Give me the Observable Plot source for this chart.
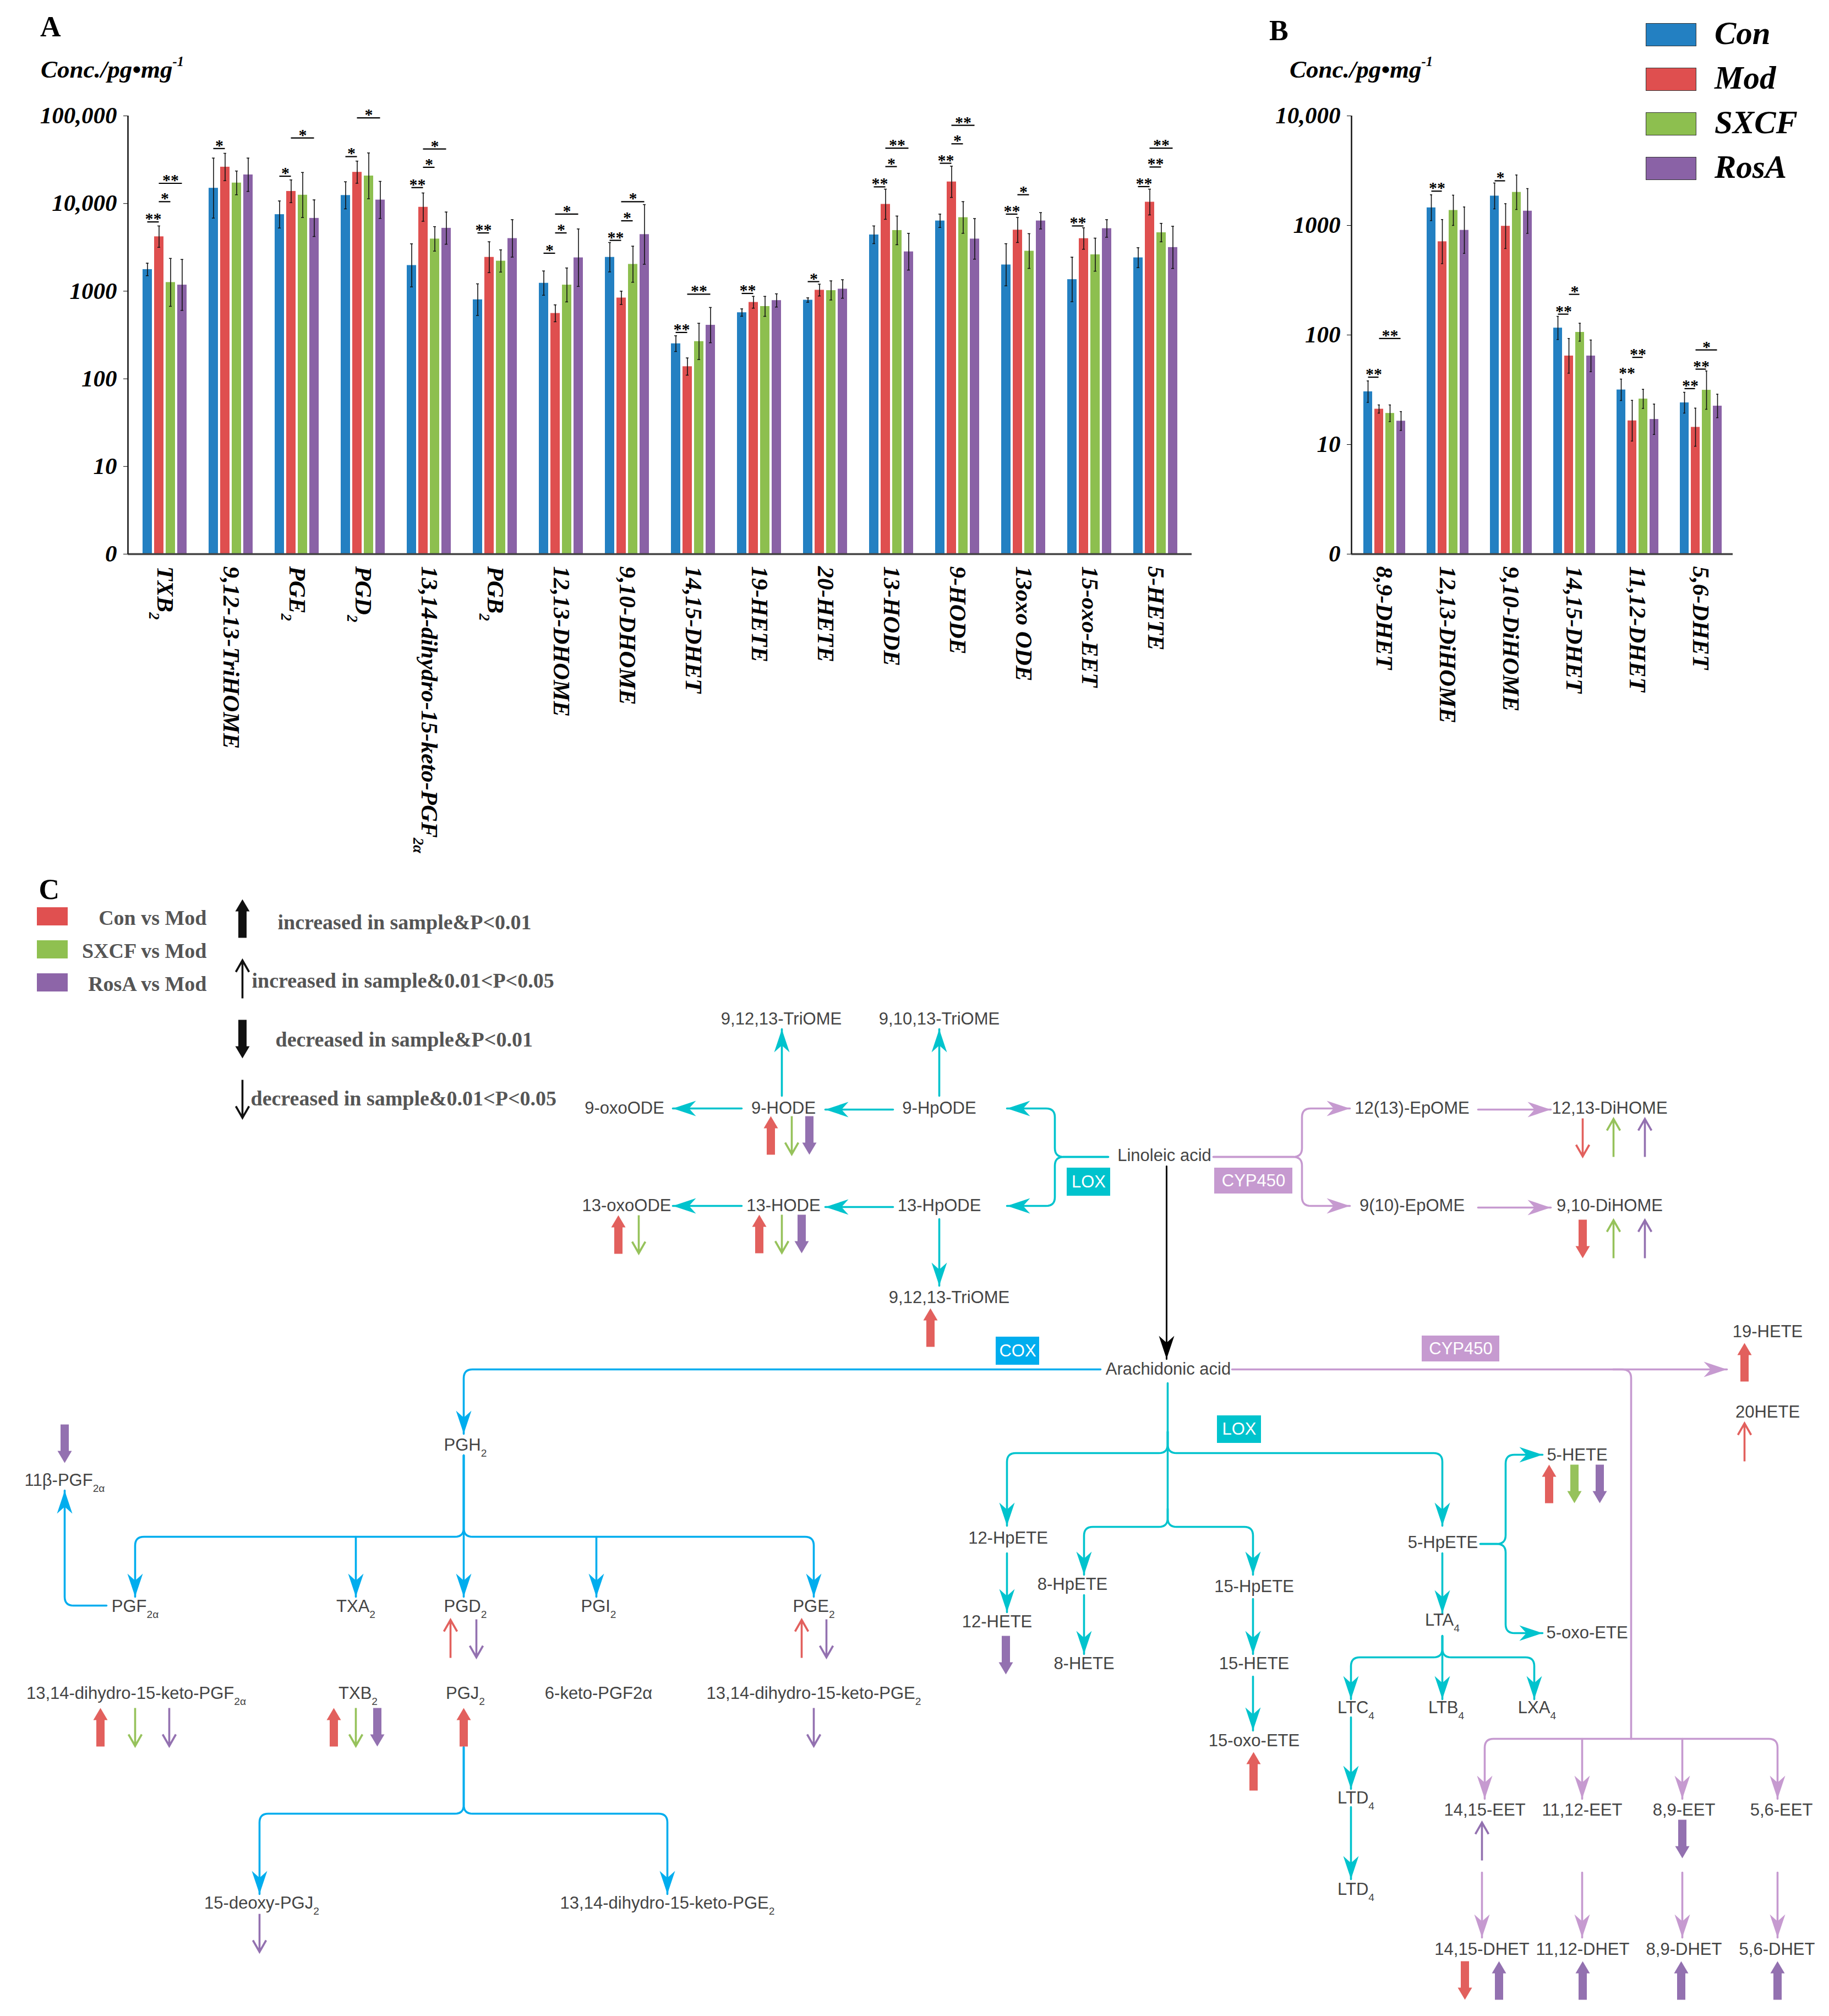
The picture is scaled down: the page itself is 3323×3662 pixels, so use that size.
<!DOCTYPE html>
<html><head><meta charset="utf-8">
<script src="https://cdn.jsdelivr.net/npm/d3@7"></script>
<script src="https://cdn.jsdelivr.net/npm/@observablehq/plot@0.6"></script>
<style>
body{margin:0;background:#fff}
#root{position:relative;width:3323px;height:3662px;background:#fff;overflow:hidden}
.lbl{position:absolute;white-space:nowrap;line-height:1;font-family:"Liberation Serif","Times New Roman",serif;color:#000}
.sup{font-size:0.55em;position:relative;top:-0.85em}
</style></head><body><div id="root"></div>
<script>
// ---------------- DATA : panel A ----------------
const groups = ["Con","Mod","SXCF","RosA"];
const groupColors = ["#2380c2","#df4f4f","#8dbf4f","#8a62a6"];

const catsA = ["TXB_2","9,12-13-TriHOME","PGE_2","PGD_2","13,14-dihydro-15-keto-PGF_{2α}","PGB_2","12,13-DHOME","9,10-DHOME","14,15-DHET","19-HETE","20-HETE","13-HODE","9-HODE","13oxo ODE","15-oxo-EET","5-HETE"];
const conA  = [1770,15000,7500,12400,1970,800,1236,2440,252,570,792,4400,6350,2000,1360,2410];
const modA  = [4190,26100,13800,22800,9100,2440,559,839,138,747,1029,9820,17700,4990,3990,10400];
const sxcfA = [1260,17200,12500,20700,3950,2210,1178,2030,267,671,1019,4940,6930,2870,2610,4660];
const rosaA = [1178,21300,6800,11000,5240,4000,2410,4440,410,784,1059,2820,3950,6350,5190,3160];
const conHiA  = [2085,33000,10700,17700,3470,1213,1700,3590,310,628,839,5550,7570,3480,2440,3130];
const modHiA  = [5550,37400,18600,30500,13200,3660,698,1000,173,872,1202,14600,26700,6930,5290,14600];
const sxcfHiA = [2365,23500,22600,37800,5450,2960,1840,3260,430,872,1310,7200,10500,4530,4030,5940];
const rosaHiA = [2300,33000,11000,17900,8000,6540,5130,9730,652,933,1350,4570,6730,7870,6540,5500];
// significance brackets: category index, pair, level (conc.), label
const sigCatA  = [0,0,0,1,2,2,3,3,4,4,4,5,6,6,6,7,7,7,8,8,9,10,11,11,11,12,12,12,13,13,14,15,15,15];
const sigPairA = ["CM","MS","MR","CM","CM","MR","CM","MR","CM","MS","MR","CM","CM","MS","MR","CM","MS","MR","CM","MR","CM","CM","CM","MS","MR","CM","MS","MR","CM","MS","CM","CM","MS","MR"];
const sigLevA  = [6170,10500,17000,42400,20500,56000,34300,94800,15200,25900,41900,4620,2710,4620,7570,3800,6350,10500,338,925,942,1285,15500,26400,42800,28800,48000,78100,7570,12600,5550,15600,26100,42800];
const sigLabA  = ["**","*","**","*","*","*","*","*","**","*","*","**","*","*","*","**","*","*","**","**","**","*","**","*","**","**","*","**","**","*","**","**","**","**"];
const ticksA = [1,10,100,1000,10000,100000];

// ---------------- DATA : panel B ----------------
const catsB = ["8,9-DHET","12,13-DiHOME","9,10-DiHOME","14,15-DHET","11,12-DHET","5,6-DHET"];
const conB  = [30.4,1452,1859,116,31.6,24.1];
const modB  = [21.1,712,986,64.5,16.5,14.4];
const sxcfB = [19.3,1375,2010,106,26.1,31.4];
const rosaB = [16.4,905,1355,64.5,17.0,22.5];
const conHiB  = [38.1,1905,2440,148,39.6,30.0];
const modHiB  = [23.0,1132,1580,92.9,25.3,21.5];
const sxcfHiB = [23.0,1890,2890,128,31.9,47.0];
const rosaHiB = [20.0,1474,2170,90,23.4,28.8];
const sigCatB  = [0,0,1,2,3,3,4,4,5,5,5];
const sigPairB = ["CM","MR","CM","CM","CM","MS","CM","MS","CM","MS","MR"];
const sigLevB  = [41.2,92.9,2056,2555,155,235,42,62.5,32.4,48.8,73];
const sigLabB  = ["**","**","**","*","**","*","**","**","**","**","*"];
const sigLineB = [true,true,true,true,true,true,false,true,true,true,true];
const ticksB = [1,10,100,1000,10000];

// ---------------- DATA : panel C (pathway) ----------------
const nodeName = ["9,12,13-TriOME","9,10,13-TriOME","9-oxoODE","9-HODE","9-HpODE","Linoleic acid","13-oxoODE","13-HODE","13-HpODE","9,12,13-TriOME",
  "12(13)-EpOME","12,13-DiHOME","9(10)-EpOME","9,10-DiHOME","Arachidonic acid","19-HETE","20HETE","5-HETE","5-oxo-ETE",
  "12-HpETE","12-HETE","8-HpETE","8-HETE","15-HpETE","15-HETE","15-oxo-ETE","5-HpETE","LTA_4","LTC_4","LTB_4","LXA_4","LTD_4","LTD_4",
  "14,15-EET","11,12-EET","8,9-EET","5,6-EET","14,15-DHET","11,12-DHET","8,9-DHET","5,6-DHET",
  "PGH_2","11β-PGF_{2α}","PGF_{2α}","TXA_2","PGD_2","PGI_2","PGE_2",
  "13,14-dihydro-15-keto-PGF_{2α}","TXB_2","PGJ_2","6-keto-PGF2α","13,14-dihydro-15-keto-PGE_2","15-deoxy-PGJ_2","13,14-dihydro-15-keto-PGE_2"];
const nodeX = [1419,1706,1134,1423,1706,2115,1138,1423,1706,1724,
  2565,2924,2565,2924,2122,3211,3211,2865,2883,
  1831,1811,1948,1969,2278,2278,2278,2621,2620,2463,2627,2792,2463,2463,
  2697,2874,3059,3236,2692,2875,3059,3228,
  845,117,245,646,845,1087,1478,
  247,650,845,1087,1478,475,1212];
const nodeY = [1851,1851,2013,2013,2013,2099,2190,2190,2190,2357,
  2013,2013,2190,2190,2487,2419,2565,2643,2966,
  2794,2946,2878,3022,2882,3022,3162,2802,2943,3102,3102,3102,3266,3432,
  3288,3288,3288,3288,3541,3541,3541,3541,
  2625,2689,2918,2918,2918,2918,2918,
  3076,3076,3076,3076,3076,3457,3457];

const enzName = ["LOX","CYP450","COX","CYP450","LOX"];
const enzX1 = [1938,2206,1809,2583,2211], enzX2 = [2017,2348,1888,2724,2291];
const enzY1 = [2121,2121,2428,2426,2571], enzY2 = [2172,2168,2479,2473,2621];
const enzKind = ["T","P","B","P","T"];

// pathway connectors: colour kind, polyline, arrow at end
const links = [
  ["T",[[1420,1990],[1420,1869]]],["T",[[1706,1990],[1706,1869]]],
  ["T",[[1347,2013],[1222,2013]]],["T",[[1622,2015],[1499,2015]]],
  ["T",[[1347,2190],[1222,2190]]],["T",[[1622,2192],[1499,2192]]],
  ["T",[[1706,2214],[1706,2335]]],
  ["T",[[2013,2101],[1916,2101],[1916,2013],[1829,2013]]],
  ["T",[[2013,2101],[1916,2101],[1916,2190],[1829,2190]]],
  ["T",[[2121,2512],[2121,2639],[1829,2639],[1829,2771]]],
  ["T",[[2121,2600],[2121,2639],[2620,2639],[2620,2771]]],
  ["T",[[2121,2600],[2121,2773],[1969,2773],[1969,2860]]],
  ["T",[[2121,2740],[2121,2773],[2276,2773],[2276,2860]]],
  ["T",[[1829,2821],[1829,2928]]],["T",[[1969,2897],[1969,3004]]],
  ["T",[[2276,2904],[2276,3004]]],["T",[[2276,3045],[2276,3143]]],
  ["T",[[2689,2804],[2735,2804],[2735,2642],[2802,2642]]],
  ["T",[[2689,2804],[2735,2804],[2735,2966],[2802,2966]]],
  ["T",[[2620,2821],[2620,2930]]],
  ["T",[[2620,2971],[2620,3010],[2454,3010],[2454,3086]]],
  ["T",[[2620,2971],[2620,3010],[2787,3010],[2787,3086]]],
  ["T",[[2620,2971],[2620,3086]]],
  ["T",[[2454,3119],[2454,3249]]],["T",[[2454,3282],[2454,3413]]],
  ["B",[[1999,2487],[842,2487],[842,2604]]],
  ["B",[[842,2643],[842,2791],[245,2791],[245,2900]]],
  ["B",[[842,2643],[842,2791],[1478,2791],[1478,2900]]],
  ["B",[[646,2791],[646,2900]]],["B",[[842,2643],[842,2900]]],["B",[[1083,2791],[1083,2900]]],
  ["B",[[193,2916],[117,2916],[117,2707]]],
  ["B",[[842,3173],[842,3294],[471,3294],[471,3440]]],
  ["B",[[842,3173],[842,3294],[1212,3294],[1212,3440]]],
  ["P",[[2204,2101],[2365,2101],[2365,2013],[2452,2013]]],
  ["P",[[2204,2101],[2365,2101],[2365,2190],[2452,2190]]],
  ["P",[[2685,2015],[2817,2015]]],["P",[[2685,2193],[2817,2193]]],
  ["P",[[2238,2487],[3137,2487]]],
  ["P",[[2930,2487],[2963,2487],[2963,3158]],false],
  ["P",[[2963,3158],[2697,3158],[2697,3267]]],
  ["P",[[2963,3158],[3229,3158],[3229,3267]]],
  ["P",[[2874,3158],[2874,3267]]],["P",[[3056,3158],[3056,3267]]],
  ["P",[[2692,3401],[2692,3519]]],["P",[[2874,3401],[2874,3519]]],
  ["P",[[3056,3401],[3056,3519]]],["P",[[3229,3401],[3229,3519]]],
  ["K",[[2119,2118],[2119,2468]]]
];

// change indicators: x, y, direction, weight (thick P<0.01 / thin 0.01<P<0.05), comparison
const indX = [1400,1438,1470,1123,1160,1379,1420,1456,1690,2875,2931,2988,2875,2931,2988,3169,3169,2814,2860,2906,1827,2277,2692,3056,2661,2723,2875,3054,3229,117,818,865,1456,1501,182,245,307,606,646,685,842,1478,471];
const indY = [2062,2062,2062,2242,2242,2241,2241,2241,2411,2066,2066,2066,2250,2250,2250,2474,2619,2695,2695,2695,3006,3217,3344,3340,3597,3597,3597,3597,3597,2622,2976,2976,2976,2976,3137,3137,3137,3137,3137,3137,3137,3137,3511];
const indDir = ["up","down","down","up","down","up","down","down","up","down","up","up","down","up","up","up","up","up","down","down","down","up","up","down","down","up","up","up","up","down","up","down","up","down","up","down","down","up","down","down","up","down","down"];
const indW = ["thick","thin","thick","thick","thin","thick","thin","thick","thick","thin","thin","thin","thick","thin","thin","thick","thin","thick","thick","thick","thick","thick","thin","thick","thick","thick","thick","thick","thick","thick","thin","thin","thin","thin","thick","thin","thin","thick","thin","thick","thick","thin","thin"];
const indCmp = ["r","g","p","r","g","r","g","p","r","r","g","p","r","g","p","r","r","r","g","p","p","r","p","p","r","p","p","p","p","p","r","p","r","p","r","g","p","r","g","p","r","p","p"];

const legCName = ["Con vs Mod","SXCF vs Mod","RosA vs Mod"];
const legCCmp = ["r","g","p"];
const legArrowText = ["increased in sample&P<0.01","increased in sample&0.01<P<0.05","decreased in sample&P<0.01","decreased in sample&0.01<P<0.05"];
const legArrowDir = ["up","up","down","down"];
const legArrowW = ["thick","thin","thick","thin"];

// ---------------- STYLE ----------------
const lineColor = {T:"#00c3cd", B:"#00adee", P:"#c69ad0", K:"#000000"};
const indColor = {r:"#e2605d", g:"#96c25b", p:"#9371b0", k:"#111111"};
const legBoxColor = {r:"#e05050", g:"#8fc050", p:"#8d65a8"};
const SERIF = '"Liberation Serif","Times New Roman",serif';
const SANS = '"Liberation Sans",Arial,sans-serif';

const root = document.getElementById("root");
function place(el, left, top) {
  el.style.position = "absolute"; el.style.left = left + "px"; el.style.top = top + "px";
  el.style.background = "transparent"; el.style.maxWidth = "none";
  subify(el); root.appendChild(el);
}
function subify(svg) {
  svg.querySelectorAll("text").forEach(t => {
    const s = t.textContent;
    if (!s.includes("_")) return;
    t.textContent = "";
    const re = /_\{([^}]*)\}|_(.)/g; let last = 0, m;
    while ((m = re.exec(s))) {
      if (m.index > last) t.appendChild(document.createTextNode(s.slice(last, m.index)));
      const ts = document.createElementNS("http://www.w3.org/2000/svg", "tspan");
      ts.setAttribute("baseline-shift", "sub"); ts.style.fontSize = "0.62em";
      ts.textContent = m[1] !== undefined ? m[1] : m[2];
      t.appendChild(ts); last = re.lastIndex;
    }
    if (last < s.length) t.appendChild(document.createTextNode(s.slice(last)));
  });
}
function label(html, left, baseline, fs, extra) {
  const d = document.createElement("div"); d.className = "lbl"; d.innerHTML = html;
  d.style.left = left + "px"; d.style.top = (baseline - 0.8375 * fs) + "px"; d.style.fontSize = fs + "px";
  if (extra) d.style.cssText += extra;
  root.appendChild(d);
}
const tickFmt = d => d === 1 ? "0" : d >= 10000 ? d3.format(",")(d) : String(d);

function makeRows(cats, vals, his) {
  const rows = [];
  cats.forEach((c, i) => groups.forEach((g, j) => {
    const v = vals[j][i], hi = his[j][i];
    rows.push({cat: c, group: g, value: v, hi, lo: v * v / hi});
  }));
  return rows;
}
const pairFrom = {CM: "Con", MS: "Mod", MR: "Mod"}, pairTo = {CM: "Mod", MS: "SXCF", MR: "RosA"};
function makeSig(cats, ci, pr, lev, lab, ln) {
  return ci.map((c, i) => ({cat: cats[c], pair: pr[i], from: pairFrom[pr[i]], to: pairTo[pr[i]],
    via: pr[i] === "MR" ? "SXCF" : pairFrom[pr[i]], y: lev[i], star: lab[i], line: ln ? ln[i] : true}));
}
const axisStyle = {fontFamily: SERIF, fontSize: "43px", fontWeight: "bold", fontStyle: "italic", color: "#000"};

function barPanel(cats, rows, sig, W, H, ml, mr, ymax) {
  return Plot.plot({
    width: W, height: H, marginLeft: ml, marginRight: mr, marginTop: 210, marginBottom: H - 1006,
    fx: {domain: cats, paddingInner: 0.3, paddingOuter: 0.15, label: null, axis: "bottom", tickRotate: 90, tickSize: 0, tickPadding: 22},
    x: {domain: groups, paddingInner: 0.2, paddingOuter: 0.1, axis: null},
    y: {type: "log", domain: [1, ymax], axis: null},
    color: {domain: groups, range: groupColors},
    style: axisStyle,
    marks: [
      Plot.barY(rows, {fx: "cat", x: "group", y1: 1, y2: "value", fill: "group"}),
      Plot.ruleX(rows, {fx: "cat", x: "group", y1: "lo", y2: "hi", stroke: "#111", strokeWidth: 1.6}),
      Plot.tickY(rows, {fx: "cat", x: "group", y: "hi", insetLeft: 6, insetRight: 6, stroke: "#111", strokeWidth: 1.5}),
      Plot.tickY(rows, {fx: "cat", x: "group", y: "lo", insetLeft: 6, insetRight: 6, stroke: "#111", strokeWidth: 1.5}),
      Plot.ruleY(sig.filter(d => d.line), {fx: "cat", y: "y", x1: "from", x2: "to", insetLeft: 8.5, insetRight: 8.5, stroke: "#000", strokeWidth: 2.2}),
      Plot.text(sig.filter(d => d.pair !== "MR"), {fx: "cat", x: "via", y: "y", text: "star", dx: 10.5, dy: 4, lineAnchor: "bottom", fontSize: 30, fontStyle: "normal", fontWeight: "bold"}),
      Plot.text(sig.filter(d => d.pair === "MR"), {fx: "cat", x: "via", y: "y", text: "star", dy: 4, lineAnchor: "bottom", fontSize: 30, fontStyle: "normal", fontWeight: "bold"})
    ]
  });
}
function axisPanel(W, H, ml, mr, ymax, ticks) {
  return Plot.plot({
    width: W, height: H, marginLeft: ml, marginRight: mr, marginTop: 210, marginBottom: H - 1006,
    x: {domain: [0, 1], axis: null},
    y: {type: "log", domain: [1, ymax], ticks, tickFormat: tickFmt, tickSize: 8, tickPadding: 12, label: null},
    style: axisStyle,
    marks: [
      Plot.ruleY([1], {stroke: "#444", strokeWidth: 3.5}),
      Plot.ruleX([0], {y1: 1, y2: ymax, stroke: "#111", strokeWidth: 2.5})
    ]
  });
}

// ---- Panel A ----
const rowsA = makeRows(catsA, [conA, modA, sxcfA, rosaA], [conHiA, modHiA, sxcfHiA, rosaHiA]);
const sigA = makeSig(catsA, sigCatA, sigPairA, sigLevA, sigLabA);
place(barPanel(catsA, rowsA, sigA, 2200, 1600, 232, 35, 1e5), 0, 0);
place(axisPanel(2200, 1600, 232, 35, 1e5, ticksA), 0, 0);

// ---- Panel B ----
const rowsB = makeRows(catsB, [conB, modB, sxcfB, rosaB], [conHiB, modHiB, sxcfHiB, rosaHiB]);
const sigB = makeSig(catsB, sigCatB, sigPairB, sigLevB, sigLabB, sigLineB);
place(barPanel(catsB, rowsB, sigB, 1123, 1400, 255, 175, 1e4), 2200, 0);
place(axisPanel(1123, 1400, 255, 175, 1e4, ticksB), 2200, 0);

// ---- titles ----
label("A", 73, 67, 52, "font-weight:bold");
label("B", 2306, 74, 52, "font-weight:bold");
label('Conc./pg•mg<span class="sup">-1</span>', 74, 142, 45, "font-weight:bold;font-style:italic");
label('Conc./pg•mg<span class="sup">-1</span>', 2343, 142, 45, "font-weight:bold;font-style:italic");
// legend B
const legBase = [80, 161, 242, 323];
groups.forEach((g, i) => {
  const b = document.createElement("div");
  b.style.cssText = `position:absolute;left:2990px;top:${legBase[i] - 38}px;width:92px;height:42px;background:${groupColors[i]};border:1.5px solid #333;box-sizing:border-box`;
  root.appendChild(b);
  label(g, 3115, legBase[i], 59, "font-weight:bold;font-style:italic");
});

// ---- Panel C ----
function roundCorners(pts, r) {
  const out = [pts[0]];
  for (let i = 1; i < pts.length - 1; i++) {
    const p0 = pts[i - 1], p1 = pts[i], p2 = pts[i + 1];
    const d1 = Math.hypot(p1[0] - p0[0], p1[1] - p0[1]), d2 = Math.hypot(p2[0] - p1[0], p2[1] - p1[1]);
    const r1 = Math.min(r, d1 / 2), r2 = Math.min(r, d2 / 2);
    const a = [p1[0] + (p0[0] - p1[0]) * r1 / d1, p1[1] + (p0[1] - p1[1]) * r1 / d1];
    const b = [p1[0] + (p2[0] - p1[0]) * r2 / d2, p1[1] + (p2[1] - p1[1]) * r2 / d2];
    for (let k = 0; k <= 8; k++) {
      const t = k / 8, u = 1 - t;
      out.push([u * u * a[0] + 2 * u * t * p1[0] + t * t * b[0], u * u * a[1] + 2 * u * t * p1[1] + t * t * b[1]]);
    }
  }
  out.push(pts[pts.length - 1]);
  return out;
}
const lineRows = [], heads = [];
links.forEach(([k, pts, arrow], i) => {
  roundCorners(pts, 16).forEach(([x, y]) => lineRows.push({id: i, x, y, c: lineColor[k], w: k === "K" ? 3 : 3.6}));
  if (arrow !== false) {
    const a = pts[pts.length - 2], b = pts[pts.length - 1];
    const dir = Math.abs(b[0] - a[0]) > Math.abs(b[1] - a[1]) ? (b[0] > a[0] ? "right" : "left") : (b[1] > a[1] ? "down" : "up");
    heads.push({x: b[0], y: b[1], dir, c: lineColor[k]});
  }
});
function headSym(dir) {
  const L = 42, Wd = 28, n = 0.3;
  const base = [[0, 0], [-Wd / 2, L], [0, L * (1 - n)], [Wd / 2, L]];
  const f = {up: ([x, y]) => [x, y], down: ([x, y]) => [x, -y], left: ([x, y]) => [y, x], right: ([x, y]) => [-y, x]}[dir];
  const p = base.map(f);
  return {draw(ctx) { ctx.moveTo(p[0][0], p[0][1]); for (let i = 1; i < p.length; i++) ctx.lineTo(p[i][0], p[i][1]); ctx.closePath(); }};
}
function thickSym(up) {
  const s = up ? 1 : -1;
  const p = [[0, -35], [13, -13], [7.5, -13], [7.5, 35], [-7.5, 35], [-7.5, -13], [-13, -13]].map(([x, y]) => [x, y * s]);
  return {draw(ctx) { ctx.moveTo(p[0][0], p[0][1]); for (let i = 1; i < p.length; i++) ctx.lineTo(p[i][0], p[i][1]); ctx.closePath(); }};
}
function thinSym(up) {
  const s = up ? 1 : -1;
  return {draw(ctx) { ctx.moveTo(0, 35 * s); ctx.lineTo(0, -33 * s); ctx.moveTo(-12, -13 * s); ctx.lineTo(0, -34 * s); ctx.lineTo(12, -13 * s); }};
}
const inds = indX.map((x, i) => ({x, y: indY[i], dir: indDir[i], w: indW[i], c: indColor[indCmp[i]]}));
const legInds = legArrowDir.map((d, i) => ({x: 440, y: [1668, 1778, 1887, 1996][i], dir: d, w: legArrowW[i], c: indColor.k}));
const allInds = inds.concat(legInds);
const nodes = nodeName.map((n, i) => ({n, x: nodeX[i], y: nodeY[i]}));
const enz = enzName.map((n, i) => ({n, x1: enzX1[i], x2: enzX2[i], y1: enzY1[i], y2: enzY2[i], c: lineColor[enzKind[i]]}));
const legBoxes = legCName.map((n, i) => ({n, x1: 67, x2: 123, y1: 1648 + 60 * i, y2: 1681 + 60 * i, c: legBoxColor[legCCmp[i]], ty: 1667 + 60 * i}));
const legTexts = legArrowText.map((t, i) => ({t, x: [504, 457, 500, 455][i], y: [1675, 1781, 1888, 1995][i]}));

const dotMarks = [];
["up", "down", "left", "right"].forEach(d => dotMarks.push(Plot.dot(heads.filter(h => h.dir === d), {x: "x", y: "y", fill: "c", stroke: "none", symbol: headSym(d)})));
["up", "down"].forEach(d => {
  dotMarks.push(Plot.dot(allInds.filter(v => v.dir === d && v.w === "thick"), {x: "x", y: "y", fill: "c", stroke: "none", symbol: thickSym(d === "up")}));
  dotMarks.push(Plot.dot(allInds.filter(v => v.dir === d && v.w === "thin"), {x: "x", y: "y", fill: "none", stroke: "c", strokeWidth: 3.6, symbol: thinSym(d === "up")}));
});

const panelC = Plot.plot({
  width: 3323, height: 2082, margin: 0,
  x: {domain: [0, 3323], range: [0, 3323], axis: null},
  y: {domain: [1580, 3662], range: [0, 2082], axis: null},
  color: {type: "identity"},
  style: {fontFamily: SANS, fontSize: "31px", color: "#444"},
  marks: [
    Plot.line(lineRows, {x: "x", y: "y", z: "id", stroke: "c", strokeWidth: "w", strokeLinejoin: "round"}),
    ...dotMarks,
    Plot.rect(enz, {x1: "x1", x2: "x2", y1: "y1", y2: "y2", fill: "c"}),
    Plot.text(enz, {x: d => (d.x1 + d.x2) / 2, y: d => (d.y1 + d.y2) / 2, text: "n", fill: "white", fontSize: 31}),
    Plot.text(nodes, {x: "x", y: "y", text: "n", fill: "#444"}),
    Plot.rect(legBoxes, {x1: "x1", x2: "x2", y1: "y1", y2: "y2", fill: "c"}),
    Plot.text(legBoxes, {x: 375, y: "ty", text: "n", textAnchor: "end", fontFamily: SERIF, fontWeight: "bold", fontSize: 38, fill: "#555"}),
    Plot.text(legTexts, {x: "x", y: "y", text: "t", textAnchor: "start", fontFamily: SERIF, fontWeight: "bold", fontSize: 38, fill: "#555"}),
    Plot.text(["C"], {x: 70, y: 1616, text: d => d, textAnchor: "start", fontFamily: SERIF, fontWeight: "bold", fontSize: 52, fill: "#000"})
  ]
});
place(panelC, 0, 1580);
</script></body></html>
